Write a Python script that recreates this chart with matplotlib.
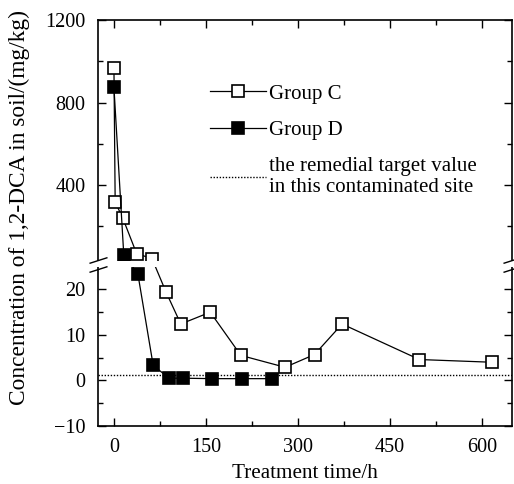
import numpy as np
import matplotlib
matplotlib.use('Agg')
import matplotlib.pyplot as plt
from matplotlib.ticker import FixedLocator

# data
time_c = [0, 2, 14, 37, 62, 85, 109, 157, 207, 279, 327, 372, 498, 617]
conc_c = [966, 317, 243, 68, 44, 19.4, 12.4, 15.0, 5.5, 2.9, 5.7, 12.4, 4.6, 4.0]
time_d = [0, 16, 39, 64, 90, 112, 160, 209, 258]
conc_d = [873, 63, 23.4, 3.3, 0.5, 0.5, 0.4, 0.4, 0.4]
target_value = 1.2

x_major = [0, 150, 300, 450, 600]
x_minor = [75, 225, 375, 525]
y_major = [-10, 0, 10, 20, 400, 800, 1200]
y_minor = [-5, 5, 15, 200, 600, 1000]

# broken y axis: linear below 25, compressed above 34
brk_lo, brk_hi = 25, 34
lo_slope, gap_px, hi_slope = 4.55, 6.0, 0.20625
yk = np.array([-1e4, brk_lo, brk_hi, 1e5])
fk = np.array([(-1e4 - brk_lo) * lo_slope, 0.0, gap_px,
               gap_px + (1e5 - brk_hi) * hi_slope])

def fwd(y):
    return np.interp(y, yk, fk)

def inv(f):
    return np.interp(f, fk, yk)

plt.rcParams['font.family'] = ['Liberation Serif', 'DejaVu Serif']
plt.rcParams['font.size'] = 14.5

fig = plt.figure(figsize=(5.14, 4.84), dpi=100)
ax = fig.add_axes([98/514, 1 - 426/484, 414/514, 406/484])
ax.set_yscale('function', functions=(fwd, inv))

ax.axhline(target_value, color='black', ls=(0, (1, 1.2)), lw=1.0, zorder=1,
           label='the remedial target value\nin this contaminated site')
ax.plot(time_c, conc_c, color='black', lw=0.9, marker='s', ms=8,
        mfc='white', mec='black', mew=1.2, label='Group C', zorder=2)
ax.plot(time_d, conc_d, color='black', lw=0.9, marker='s', ms=8,
        mfc='black', mec='black', mew=1.2, label='Group D', zorder=2)

ax.set_xlim(-26, 649)
ax.set_ylim(-10, 1200)
ax.xaxis.set_major_locator(FixedLocator(x_major))
ax.xaxis.set_minor_locator(FixedLocator(x_minor))
ax.yaxis.set_major_locator(FixedLocator(y_major))
ax.yaxis.set_minor_locator(FixedLocator(y_minor))
ax.tick_params(which='both', direction='in', top=True, right=True, width=1.0)
ax.tick_params(which='major', length=6, pad=9)
ax.tick_params(which='minor', length=3.5)
for s in ax.spines.values():
    s.set_linewidth(1.2)

# scale break: white band + slashes
ax.axhspan(brk_lo, brk_hi, xmin=-0.02, xmax=1.02, color='white', lw=0,
           zorder=3, clip_on=False)
slash = [(-1, -0.32), (1, 0.32)]
for xa in (0, 1):
    ax.plot([xa, xa], [brk_lo - 0.5, brk_hi + 4], ls='none', marker=slash,
            ms=13, mew=1.0, color='black', transform=ax.get_yaxis_transform(),
            clip_on=False, zorder=4)

ax.set_xlabel('Treatment time/h', fontsize=15.2, labelpad=5)
ax.set_ylabel('Concentration of 1,2-DCA in soil/(mg/kg)', fontsize=16.8)
ax.yaxis.set_label_coords(-0.165, 0.539)

h, l = ax.get_legend_handles_labels()
ax.legend([h[1], h[2], h[0]], [l[1], l[2], l[0]], loc='upper left',
          bbox_to_anchor=(0.27, 0.842), frameon=False, borderpad=0,
          borderaxespad=0, fontsize=15, handlelength=2.7, handletextpad=0.15,
          labelspacing=0.8, numpoints=1)

fig.savefig('out.png', dpi=100)
